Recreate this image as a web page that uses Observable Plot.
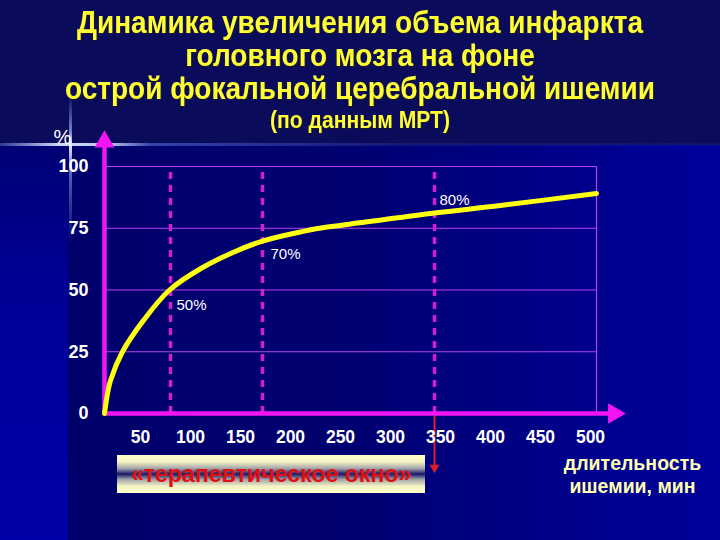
<!DOCTYPE html>
<html>
<head>
<meta charset="utf-8">
<script src="https://cdn.jsdelivr.net/npm/d3@7"></script>
<script src="https://cdn.jsdelivr.net/npm/@observablehq/plot@0.6"></script>
<style>
  html, body { margin: 0; padding: 0; background: #0c0c5e; }
  #root { position: relative; width: 720px; height: 540px; overflow: hidden; background: #0b0b5c; font-family: "Liberation Sans", Arial, sans-serif; }
  #lower { position: absolute; left: 0; top: 145px; width: 720px; height: 395px;
    background: linear-gradient(to right, #00006a 0px, #000072 50%, #00009c 100%); }
  #strip { position: absolute; left: 0; top: 145px; width: 68px; height: 395px;
    background: linear-gradient(to bottom, #000074 0%, #000096 35%, #0000a8 100%); }
  #hglow { position: absolute; left: 0; top: 143px; width: 720px; height: 3px;
    background: linear-gradient(to right, rgba(110,150,255,0.35) 0px, rgba(220,230,255,0.95) 60px, rgba(200,215,255,0.9) 110px, rgba(110,140,255,0.45) 150px, rgba(80,110,255,0.15) 400px, rgba(80,110,255,0.08) 720px);
    filter: blur(0.6px); }
  #vglow { position: absolute; left: 69px; top: 95px; width: 3px; height: 150px;
    background: linear-gradient(to bottom, rgba(120,160,255,0) 0%, rgba(160,190,255,0.7) 25%, rgba(235,240,255,1) 33%, rgba(140,170,255,0.6) 50%, rgba(100,130,255,0) 100%);
    filter: blur(0.6px); }
  .t { position: absolute; left: 0; width: 720px; text-align: center; color: #ffff33; font-weight: bold; white-space: nowrap; transform-origin: 360px 50%; text-shadow: 1px 1px 1px rgba(40,40,0,0.6); }
  #chart { position: absolute; left: 0; top: 0; }
  #box { position: absolute; left: 117px; top: 455px; width: 308px; height: 38px;
    background: linear-gradient(to bottom, #ffffc8 0%, #f4f4c4 18%, #a0a0a8 36%, #181868 50%, #a0a0a8 64%, #f4f4c4 82%, #ffffc8 100%);
    color: #e01010; font-weight: bold; font-size: 23.5px; line-height: 38px; text-align: center; white-space: nowrap; letter-spacing: -0.2px; }
</style>
</head>
<body>
<div id="root">
  <div id="lower"></div>
  <div id="strip"></div>
  <div id="hglow"></div>
  <div id="vglow"></div>
  <div class="t" style="top:4px;font-size:32px;line-height:36px;transform:scaleX(0.875);">Динамика увеличения объема инфаркта</div>
  <div class="t" style="top:37px;font-size:32px;line-height:36px;transform:scaleX(0.875);">головного мозга на фоне</div>
  <div class="t" style="top:70px;font-size:32px;line-height:36px;transform:scaleX(0.875);">острой фокальной церебральной ишемии</div>
  <div class="t" style="top:105px;font-size:24px;line-height:30px;transform:scaleX(0.88);">(по данным МРТ)</div>
  <div id="chart"></div>
  <div id="box">«терапевтическое окно»</div>
</div>
<script>
// Curve: duration of ischemia (min, on the chart's drawn scale) vs infarct volume (%)
const minutes = [14, 17, 20, 32, 53, 79, 110, 143, 172, 210, 227, 277, 344, 410, 506];
const volume  = [0, 8, 13.4, 25, 37.7, 50, 58.6, 65.3, 69.8, 73.5, 74.9, 77.6, 81.2, 84.2, 89.1];

const yTicks = [0, 25, 50, 75, 100];
const xTicks = [50, 100, 150, 200, 250, 300, 350, 400, 450, 500];
const gridY = [25, 50, 75, 100];
const markerX = [80, 172, 344];
const markerLabels = ["50%", "70%", "80%"];
const markerLabelY = [50, 70, 80];

const curve = minutes.map((m, i) => ({m, v: volume[i]}));
const magenta = "#f414f4";
const grid = "#b444ee";
const labelOffsets = [[6, 15], [8, 14], [5, -16]];

const chart = Plot.plot({
  width: 720,
  height: 540,
  margin: 0,
  x: {domain: [0, 500], range: [90, 590], axis: null},
  y: {domain: [0, 100], range: [413, 166], axis: null},
  style: {background: "transparent", overflow: "visible", fontFamily: "'Liberation Sans', Arial, sans-serif"},
  marks: [
    // grid
    Plot.ruleY(gridY, {y: d => d, x1: 14, x2: 506, stroke: grid, strokeWidth: 1.2}),
    Plot.ruleX([506], {x: d => d, y1: 0, y2: 100, stroke: grid, strokeWidth: 1.2}),
    // dashed markers
    Plot.ruleX(markerX, {x: d => d, y1: 0, y2: 100, stroke: "#d41cd4", strokeWidth: 3.5, strokeDasharray: "7,6"}),
    // red arrow under 350
    Plot.ruleX([344], {x: d => d, y1: 0, y2: -21, stroke: "#e01c28", strokeWidth: 2}),
    Plot.dot([344], {x: d => d, y: -21.9, symbol: "triangle", r: 3.7, rotate: 180, fill: "#e01c28", stroke: "none"}),
    // axes
    Plot.ruleX([14], {x: d => d, y1: 0, y2: 108, stroke: magenta, strokeWidth: 4.5}),
    Plot.dot([14], {x: d => d, y: 110, symbol: "triangle", r: 7.4, fill: magenta, stroke: "none"}),
    Plot.ruleY([0], {y: d => d, x1: 14, x2: 520, stroke: magenta, strokeWidth: 4.5}),
    Plot.dot([523.5], {x: d => d, y: 0, symbol: "triangle", r: 7.6, rotate: 90, fill: magenta, stroke: "none"}),
    // curve
    Plot.line(curve, {x: "m", y: "v", curve: "catmull-rom", stroke: "#ffff10", strokeWidth: 5}),
    // marker labels
    ...markerX.map((mx, i) => Plot.text([markerLabels[i]], {x: mx, y: markerLabelY[i], text: d => d,
      dx: labelOffsets[i][0], dy: labelOffsets[i][1], textAnchor: "start", fill: "white", fontSize: 15})),
    // tick labels
    Plot.text(yTicks, {x: 14, y: d => d, text: d => String(d), textAnchor: "end", dx: -16, fill: "white", fontSize: 18, fontWeight: "bold"}),
    Plot.text(xTicks, {x: d => d, y: 0, text: d => String(d), dy: 24, fill: "white", fontSize: 17.5, fontWeight: "bold"}),
    // axis titles
    Plot.text(["длительность\nишемии, мин"], {x: 542, y: 0, text: d => d, dy: 60.5, lineHeight: 1.18, fill: "#ffffb0", fontSize: 19.5, fontWeight: "bold"}),
    Plot.text(["%"], {x: -28, y: 111.7, text: d => d, fill: "white", fontSize: 20})
  ]
});
document.getElementById("chart").appendChild(chart);
</script>
</body>
</html>
